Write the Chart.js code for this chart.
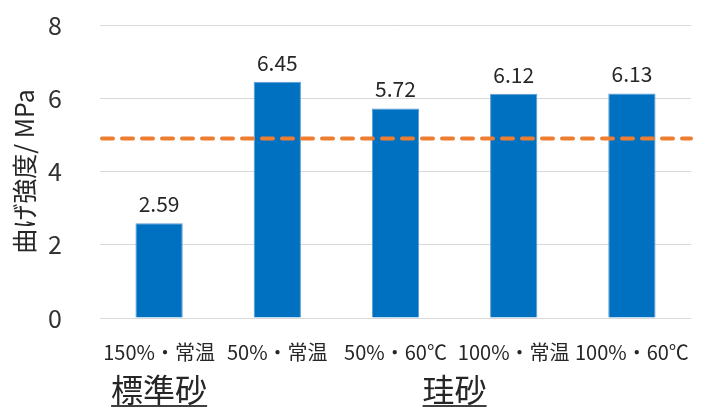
<!DOCTYPE html>
<html>
<head>
<meta charset="utf-8">
<script src="https://cdn.jsdelivr.net/npm/chart.js@4"></script>
<style>
  html, body { margin: 0; padding: 0; background: #ffffff; }
  #wrap { width: 701px; height: 411px; }
</style>
</head>
<body>
<div id="wrap"><canvas id="c" width="701" height="411"></canvas></div>
<script>
// Flexural strength per mix / curing condition
const categories = ['150%・常温', '50%・常温', '50%・60℃', '100%・常温', '100%・60℃'];
const strength = [2.59, 6.45, 5.72, 6.12, 6.13];
// Reference strength level shown as a dashed line
const referenceLevel = 4.9;
const yTicks = [0, 2, 4, 6, 8];
// Sand type groups and the category indices under each
const groupLabels = ['標準砂', '珪砂'];
const groupMembers = [[0], [1, 2, 3, 4]];

const FONT = '"Noto Sans CJK JP", "Noto Sans", sans-serif';
Chart.defaults.font.family = FONT;

// Dashed reference level across the full plot width
const referenceLine = {
  id: 'referenceLine',
  afterDatasetsDraw(chart) {
    const { ctx, chartArea } = chart;
    const y = chart.scales.y.getPixelForValue(referenceLevel);
    ctx.save();
    ctx.strokeStyle = '#ED7D31';
    ctx.lineWidth = 4;
    ctx.lineCap = 'round';
    ctx.setLineDash([11, 9]);
    ctx.beginPath();
    ctx.moveTo(chartArea.left + 2, y);
    ctx.lineTo(chartArea.right, y);
    ctx.stroke();
    ctx.restore();
  }
};

// Value labels above each bar
const barValueLabels = {
  id: 'barValueLabels',
  afterDatasetsDraw(chart) {
    const meta = chart.getDatasetMeta(0);
    const ctx = chart.ctx;
    ctx.save();
    ctx.font = '21px ' + FONT;
    ctx.fillStyle = '#262626';
    ctx.textAlign = 'center';
    ctx.textBaseline = 'middle';
    meta.data.forEach((el, i) => {
      ctx.fillText(strength[i].toFixed(2), el.x, el.y - 19);
    });
    ctx.restore();
  }
};

// Underlined group captions below the category labels
const groupCaptions = {
  id: 'groupCaptions',
  afterDraw(chart) {
    const xs = chart.scales.x;
    const ctx = chart.ctx;
    ctx.save();
    ctx.font = '32px ' + FONT;
    ctx.textAlign = 'center';
    ctx.textBaseline = 'middle';
    groupLabels.forEach((label, g) => {
      const idx = groupMembers[g];
      const x0 = xs.getPixelForValue(idx[0]);
      const x1 = xs.getPixelForValue(idx[idx.length - 1]);
      const cx = (x0 + x1) / 2;
      const w = ctx.measureText(label).width;
      ctx.fillStyle = '#262626';
      ctx.fillText(label, cx, 390);
      ctx.fillStyle = '#404040';
      ctx.fillRect(cx - w / 2, 405, w, 2);
    });
    ctx.restore();
  }
};

new Chart(document.getElementById('c'), {
  type: 'bar',
  data: {
    labels: categories,
    datasets: [
      {
        data: strength,
        backgroundColor: '#0070C0',
        borderColor: '#5B9BD5',
        borderWidth: 1,
        barPercentage: 0.4,
        categoryPercentage: 1
      }
    ]
  },
  options: {
    responsive: false,
    devicePixelRatio: 1,
    animation: false,
    layout: { padding: { top: 25, right: 10, left: 0, bottom: 0 } },
    plugins: {
      legend: { display: false },
      tooltip: { enabled: false }
    },
    scales: {
      x: {
        grid: { display: false, drawTicks: false },
        border: { display: false },
        ticks: {
          font: { size: 20 },
          color: '#262626',
          padding: 22,
          maxRotation: 0,
          minRotation: 0,
          autoSkip: false
        },
        afterFit(scale) {
          scale.height = 93;
          scale.paddingLeft = 0;
          scale.paddingRight = 0;
        }
      },
      y: {
        min: 0,
        max: 8,
        afterBuildTicks(scale) { scale.ticks = yTicks.map(v => ({ value: v })); },
        ticks: {
          font: { size: 25 },
          color: '#333333',
          padding: 38
        },
        grid: { color: '#d9d9d9', lineWidth: 1, drawTicks: false },
        border: { display: false },
        title: {
          display: true,
          text: '曲げ強度/ MPa',
          font: { size: 25 },
          color: '#262626',
          padding: { top: 9, bottom: 0 }
        },
        afterFit(scale) {
          scale.width = 100;
          scale.paddingTop = 0;
          scale.paddingBottom = 0;
        }
      }
    }
  },
  plugins: [referenceLine, barValueLabels, groupCaptions]
});
</script>
</body>
</html>
